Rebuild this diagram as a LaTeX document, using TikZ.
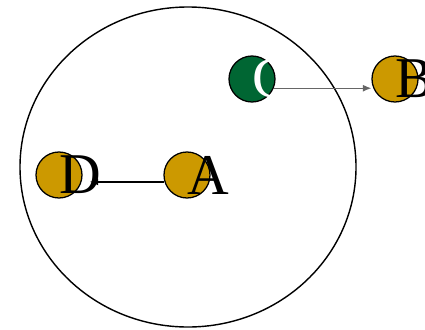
\documentclass[tikz,border=0pt]{standalone}
\usepackage{fontspec}
\setmainfont{Liberation Serif}
\usepackage{tikz}
\usetikzlibrary{arrows.meta,positioning,calc}
\definecolor{gold}{RGB}{204,153,0}
\definecolor{deepgreen}{RGB}{0,102,51}
\definecolor{edgegrey}{RGB}{102,102,102}
\begin{document}
\begin{tikzpicture}[x=0.025cm, y=-0.025cm,
    dot/.style={circle, draw=black, line width=0.9pt, fill=gold, minimum size=1.15cm, inner sep=0pt},
    lbl/.style={anchor=west, inner sep=0pt, font=\fontsize{41}{41}\selectfont}]
\useasboundingbox (0,0) rectangle (425,329);
% outer region
\draw[line width=1pt] (188,167) ellipse [x radius=168, y radius=160];
\node[dot, fill=deepgreen] (C) at (252,79) {};
\node[dot] (B) at (395,79) {};
\node[dot] (D) at (59,175) {};
\node[dot] (A) at (187,175) {};
% labels start at the centre of each dot
\node[lbl, text=white] (lc) at (C.center) {C};
\node[lbl] (lb) at (B.center) {B};
\node[lbl] (ld) at (D.center) {D};
\node[lbl] (la) at (A.center) {A};
% edges
\draw[-{Latex[length=6pt,width=5pt]}, edgegrey, line width=0.9pt] (C.-23) -- (C.-23 -| B.west);
\draw[-{Latex[length=6pt,width=5pt]}, black, line width=0.9pt] (A.197) -- ([xshift=5pt]A.197 -| D.east);
\end{tikzpicture}
\end{document}
